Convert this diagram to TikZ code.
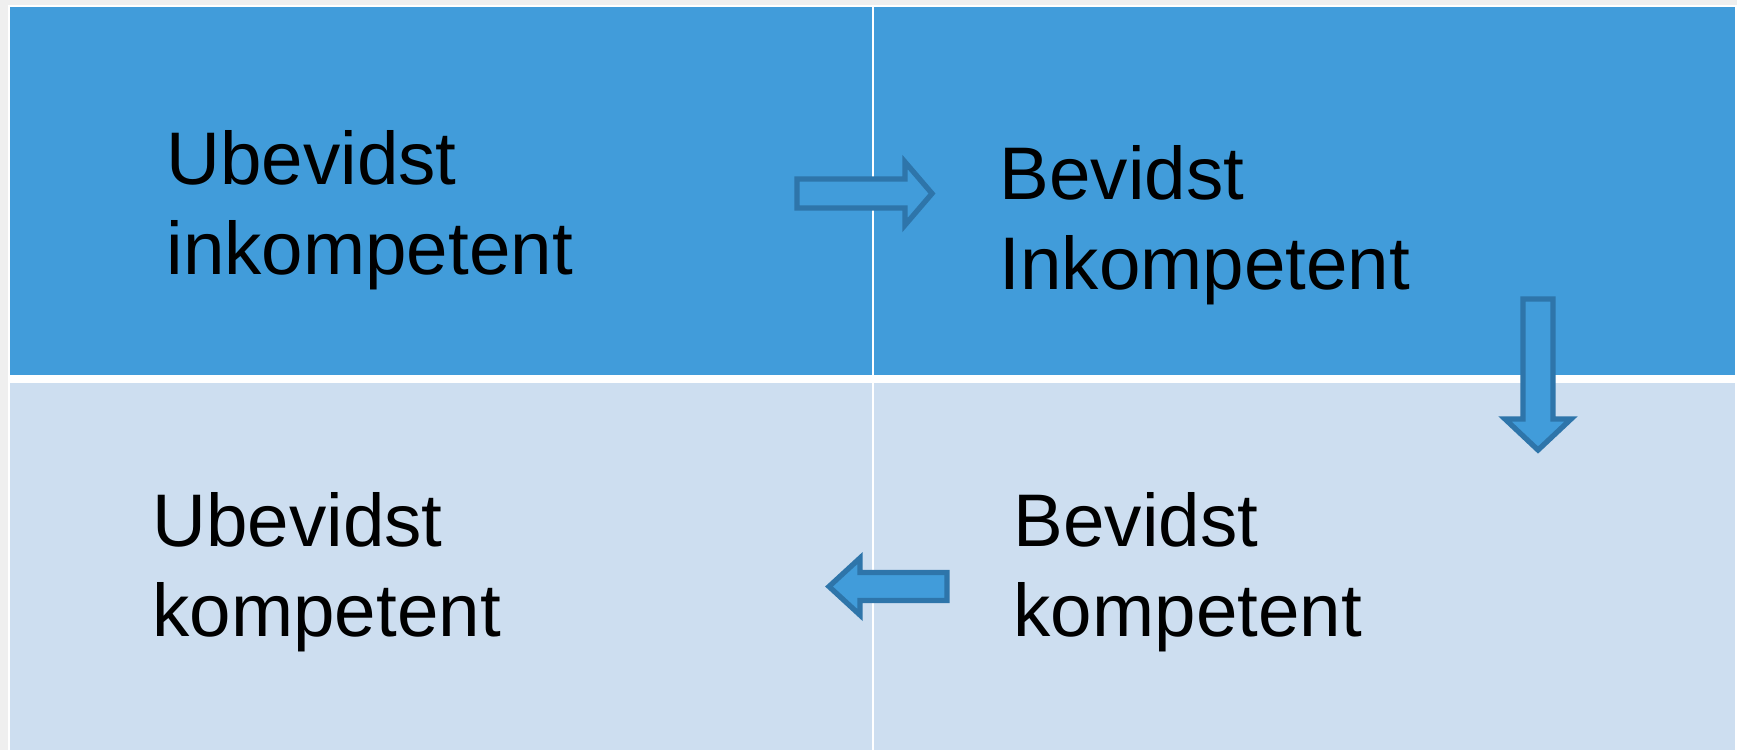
\documentclass[tikz,border=0pt]{standalone}
\usepackage{fontspec}
\setmainfont{Liberation Sans}
\usepackage{xcolor}
\usepackage{tikz}
\usetikzlibrary{positioning}

\definecolor{pagegray}{RGB}{239,239,239}
\definecolor{cellblue}{RGB}{65,156,218}
\definecolor{celllight}{RGB}{205,222,240}
\definecolor{arrowline}{RGB}{46,117,170}

\begin{document}
\begin{tikzpicture}[x=0.01cm,y=-0.01cm]
\tikzstyle{every node}+=[inner sep=0pt]
\tikzstyle{celltext}=[anchor=base west,align=left,font=\fontsize{21.2}{25.4}\selectfont]
\tikzstyle{blockarrow}=[draw=arrowline,fill=cellblue,line width=1.5pt,line join=miter]
% page and frame
\fill [pagegray] (0,0) rectangle (1737,750);
\useasboundingbox (0,0) rectangle (1737,750);
\fill [white] (8,5) rectangle (1737,750);
% the four cells
\fill [cellblue] (10,7) rectangle (872,375);
\fill [cellblue] (874,7) rectangle (1735,375);
\fill [celllight] (10,383) rectangle (872,750);
\fill [celllight] (874,383) rectangle (1735,750);
% texts (base west = baseline of the last line)
\node [celltext] (ui) at (166,274) {Ubevidst\\inkompetent};
\node [celltext] (bi) at (999,289) {Bevidst\\Inkompetent};
\node [celltext] (uk) at (152,636) {Ubevidst\\kompetent};
\node [celltext] (bk) at (1013,636) {Bevidst\\kompetent};
% block arrows
\draw [blockarrow] (797,179) -- (905,179) -- (905,162) -- (932,193.5) -- (905,225) -- (905,208) -- (797,208) -- cycle;
\draw [blockarrow] (1523,299) -- (1553,299) -- (1553,419) -- (1571,419) -- (1538,450) -- (1505,419) -- (1523,419) -- cycle;
\draw [blockarrow] (947,572.5) -- (860,572.5) -- (860,558) -- (829,586.5) -- (860,615) -- (860,600.5) -- (947,600.5) -- cycle;
\end{tikzpicture}
\end{document}
